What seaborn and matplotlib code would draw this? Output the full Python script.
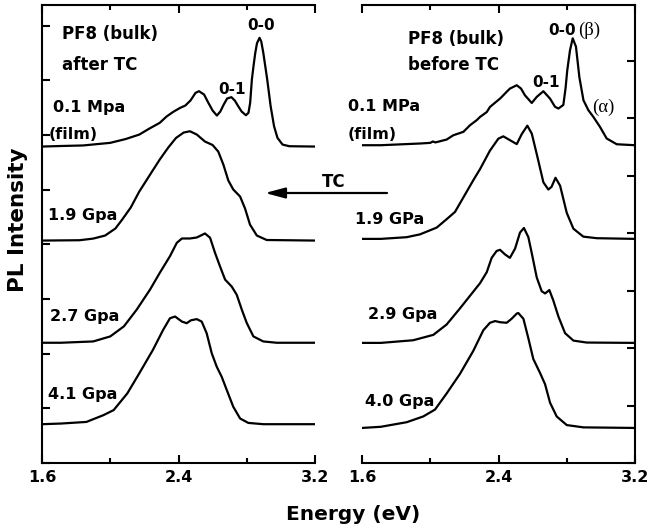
import matplotlib
matplotlib.use('Agg')
import matplotlib.pyplot as plt
from matplotlib.patches import FancyArrowPatch
from matplotlib.ticker import FixedLocator
import numpy as np
import seaborn as sns

sns.set_theme(style='ticks')
plt.rcParams['font.family'] = ['DejaVu Sans']
plt.rcParams['font.weight'] = 'bold'
plt.rcParams['text.color'] = 'black'
plt.rcParams['axes.labelcolor'] = 'black'
plt.rcParams['axes.linewidth'] = 1.5

# ---- after TC (left panel), PL spectra, peak = 1 ----
a1_e = [1.60, 1.71, 1.84, 2.00, 2.09, 2.17, 2.23, 2.29, 2.33, 2.37, 2.41, 2.44, 2.47, 2.50, 2.52,
        2.55, 2.575, 2.60, 2.625, 2.645, 2.665, 2.685, 2.71, 2.73, 2.75, 2.77, 2.795, 2.81, 2.82,
        2.83, 2.84, 2.85, 2.86, 2.875, 2.885, 2.897, 2.92, 2.94, 2.96, 2.98, 3.01, 3.05, 3.20]
a1_i = [0.0, 0.005, 0.01, 0.034, 0.069, 0.11, 0.166, 0.218, 0.276, 0.32, 0.356, 0.377, 0.423, 0.494,
        0.509, 0.478, 0.402, 0.331, 0.285, 0.322, 0.386, 0.442, 0.454, 0.423, 0.371, 0.322, 0.288,
        0.31, 0.402, 0.616, 0.745, 0.862, 0.95, 1.0, 0.966, 0.862, 0.616, 0.371, 0.187, 0.08, 0.018,
        0.003, 0.0]
a2_e = [1.60, 1.82, 1.90, 1.97, 2.03, 2.07, 2.12, 2.17, 2.23, 2.29, 2.34, 2.385, 2.43, 2.467, 2.507,
        2.555, 2.60, 2.633, 2.663, 2.692, 2.721, 2.761, 2.79, 2.819, 2.859, 2.917, 3.20]
a2_i = [0.0, 0.003, 0.018, 0.046, 0.11, 0.192, 0.302, 0.448, 0.595, 0.741, 0.851, 0.938, 0.988, 1.0,
        0.97, 0.906, 0.874, 0.814, 0.695, 0.549, 0.467, 0.403, 0.293, 0.146, 0.046, 0.005, 0.0]
a3_e = [1.60, 1.71, 1.90, 2.00, 2.08, 2.155, 2.233, 2.29, 2.35, 2.39, 2.42, 2.467, 2.507, 2.532,
        2.555, 2.585, 2.614, 2.643, 2.673, 2.712, 2.741, 2.771, 2.80, 2.839, 2.897, 2.976, 3.20]
a3_i = [0.0, 0.0, 0.012, 0.058, 0.15, 0.303, 0.486, 0.639, 0.792, 0.914, 0.954, 0.954, 0.963, 0.982,
        1.0, 0.961, 0.823, 0.70, 0.578, 0.514, 0.44, 0.303, 0.181, 0.058, 0.012, 0.0, 0.0]
a4_e = [1.60, 1.71, 1.86, 1.96, 2.02, 2.10, 2.17, 2.25, 2.31, 2.35, 2.38, 2.42, 2.448, 2.473, 2.507,
        2.536, 2.565, 2.595, 2.624, 2.653, 2.683, 2.721, 2.761, 2.809, 2.897, 3.20]
a4_i = [0.0, 0.006, 0.021, 0.084, 0.131, 0.286, 0.472, 0.69, 0.876, 0.984, 1.0, 0.953, 0.938, 0.965,
        0.976, 0.953, 0.845, 0.658, 0.534, 0.441, 0.317, 0.162, 0.053, 0.012, 0.0, 0.0]

# ---- before TC (right panel) ----
b1_e = [1.60, 1.71, 1.94, 2.00, 2.016, 2.03, 2.096, 2.135, 2.194, 2.233, 2.272, 2.292, 2.331, 2.35,
        2.389, 2.409, 2.448, 2.467, 2.507, 2.532, 2.555, 2.595, 2.624, 2.663, 2.702, 2.731, 2.751,
        2.78, 2.793, 2.803, 2.819, 2.835, 2.854, 2.874, 2.898, 2.927, 2.956, 2.995, 3.034, 3.093, 3.20]
b1_i = [0.0, 0.0, 0.016, 0.022, 0.035, 0.026, 0.053, 0.093, 0.125, 0.187, 0.234, 0.265, 0.31, 0.358,
        0.41, 0.436, 0.50, 0.53, 0.561, 0.53, 0.467, 0.395, 0.452, 0.505, 0.436, 0.36, 0.343, 0.377,
        0.533, 0.701, 0.888, 1.0, 0.922, 0.636, 0.42, 0.327, 0.265, 0.171, 0.063, 0.009, 0.0]
b2_e = [1.60, 1.71, 1.862, 1.94, 2.038, 2.096, 2.145, 2.194, 2.253, 2.292, 2.35, 2.399, 2.428, 2.467,
        2.507, 2.536, 2.569, 2.595, 2.624, 2.663, 2.692, 2.711, 2.734, 2.761, 2.80, 2.839, 2.897,
        2.976, 3.20]
b2_i = [0.0, 0.0, 0.015, 0.04, 0.10, 0.174, 0.238, 0.366, 0.52, 0.617, 0.78, 0.885, 0.906, 0.872,
        0.837, 0.925, 1.0, 0.93, 0.75, 0.50, 0.436, 0.46, 0.54, 0.47, 0.23, 0.09, 0.02, 0.006, 0.0]
b3_e = [1.60, 1.71, 1.90, 2.018, 2.096, 2.174, 2.233, 2.292, 2.331, 2.36, 2.389, 2.409, 2.438, 2.467,
        2.497, 2.526, 2.549, 2.575, 2.595, 2.624, 2.653, 2.673, 2.698, 2.721, 2.751, 2.79, 2.839,
        2.917, 3.20]
b3_i = [0.0, 0.0, 0.023, 0.07, 0.16, 0.30, 0.41, 0.52, 0.615, 0.74, 0.80, 0.81, 0.77, 0.74, 0.82,
        0.96, 1.0, 0.92, 0.78, 0.57, 0.45, 0.43, 0.46, 0.37, 0.23, 0.085, 0.02, 0.003, 0.0]
b4_e = [1.60, 1.71, 1.862, 1.959, 2.028, 2.096, 2.174, 2.252, 2.311, 2.35, 2.38, 2.409, 2.448, 2.477,
        2.507, 2.516, 2.546, 2.575, 2.604, 2.643, 2.673, 2.702, 2.741, 2.80, 2.897, 3.20]
b4_i = [0.0, 0.01, 0.05, 0.10, 0.16, 0.30, 0.47, 0.67, 0.85, 0.915, 0.93, 0.92, 0.915, 0.95, 0.995,
        1.0, 0.95, 0.78, 0.60, 0.48, 0.38, 0.22, 0.10, 0.025, 0.005, 0.0]

# vertical stacking offsets and peak heights (axis units)
after_offsets = [5.79, 4.07, 2.20, 0.71]
after_heights = [1.99, 2.0, 2.0, 1.97]
before_offsets = [5.53, 3.90, 2.09, 0.61]
before_heights = [1.86, 1.97, 2.0, 2.0]

after_labels = ['0.1 Mpa', '1.9 Gpa', '2.7 Gpa', '4.1 Gpa']
before_labels = ['0.1 MPa', '1.9 GPa', '2.9 Gpa', '4.0 Gpa']

x_major = [1.6, 2.4, 3.2]
x_minor = [2.0, 2.8]

fig = plt.figure(figsize=(6.52, 5.27), dpi=100)
ax_a = fig.add_axes([42 / 652, 64 / 527, 273 / 652, 458 / 527])
ax_b = fig.add_axes([362 / 652, 64 / 527, 273 / 652, 458 / 527])


def draw(ax, curves, offsets, heights):
    for (e, i), off, h in zip(curves, offsets, heights):
        y = off + h * np.asarray(i)
        sns.lineplot(x=e, y=y, ax=ax, color='black', lw=1.6, sort=False, estimator=None)


draw(ax_a, [(a1_e, a1_i), (a2_e, a2_i), (a3_e, a3_i), (a4_e, a4_i)], after_offsets, after_heights)
draw(ax_b, [(b1_e, b1_i), (b2_e, b2_i), (b3_e, b3_i), (b4_e, b4_i)], before_offsets, before_heights)

for ax in (ax_a, ax_b):
    ax.set_xlim(1.6, 3.2)
    ax.xaxis.set_major_locator(FixedLocator(x_major))
    ax.xaxis.set_minor_locator(FixedLocator(x_minor))
    ax.set_xticklabels(['1.6', '2.4', '3.2'], fontsize=11.5, fontweight='bold')
    ax.tick_params(axis='x', which='both', direction='in', top=True, bottom=True,
                   width=1.5, colors='black', pad=5)
    ax.tick_params(axis='x', which='major', length=6)
    ax.tick_params(axis='x', which='minor', length=3.8)
    ax.set_xlabel('')
    ax.set_ylabel('')
    for s in ax.spines.values():
        s.set_color('black')
        s.set_linewidth(1.5)
        s.set_visible(True)

# the two panels share an open gap: no inner vertical spines
ax_a.spines['right'].set_visible(False)
ax_b.spines['left'].set_visible(False)

ax_a.set_ylim(0, 8.38)
ax_a.set_yticks(range(0, 9))
ax_a.tick_params(axis='y', direction='in', left=True, right=False, labelleft=False,
                 length=6, width=1.5, colors='black')
ax_b.set_ylim(0, 7.97)
ax_b.set_yticks(range(0, 8))
ax_b.tick_params(axis='y', direction='in', left=False, right=True, labelleft=False,
                 labelright=False, length=6, width=1.5, colors='black')

# panel annotations (axes fraction)
kw = dict(fontweight='bold', color='black', va='baseline', ha='left', clip_on=False)
ax_a.text(0.073, 0.925, 'PF8 (bulk)', fontsize=12, transform=ax_a.transAxes, **kw)
ax_a.text(0.073, 0.858, 'after TC', fontsize=12, transform=ax_a.transAxes, **kw)
ax_a.text(0.645, 0.806, '0-1', fontsize=11, transform=ax_a.transAxes, **kw)
ax_a.text(0.751, 0.945, '0-0', fontsize=11, transform=ax_a.transAxes, **kw)
for lab, (fx, fy) in zip(after_labels, [(0.040, 0.767), (0.022, 0.531), (0.029, 0.309), (0.022, 0.139)]):
    ax_a.text(fx, fy, lab, fontsize=11.5, transform=ax_a.transAxes, **kw)
ax_a.text(0.026, 0.707, '(film)', fontsize=11.5, transform=ax_a.transAxes, **kw)

ax_b.text(0.168, 0.914, 'PF8 (bulk)', fontsize=12, transform=ax_b.transAxes, **kw)
ax_b.text(0.168, 0.858, 'before TC', fontsize=12, transform=ax_b.transAxes, **kw)
ax_b.text(0.681, 0.935, '0-0', fontsize=11, transform=ax_b.transAxes, **kw)
ax_b.text(0.79, 0.935, '(β)', fontsize=13.5, fontweight='normal', family='Liberation Serif',
          transform=ax_b.transAxes, va='baseline', ha='left', color='black')
ax_b.text(0.623, 0.820, '0-1', fontsize=11, transform=ax_b.transAxes, **kw)
ax_b.text(0.842, 0.767, '(α)', fontsize=13.5, fontweight='normal', family='Liberation Serif',
          transform=ax_b.transAxes, va='baseline', ha='left', color='black')
for lab, (fx, fy) in zip(before_labels, [(-0.051, 0.769), (-0.026, 0.521), (0.022, 0.314), (0.011, 0.125)]):
    ax_b.text(fx, fy, lab, fontsize=11.5, transform=ax_b.transAxes, **kw)
ax_b.text(-0.051, 0.707, '(film)', fontsize=11.5, transform=ax_b.transAxes, **kw)

# TC arrow between panels
fig.text(0.494, 0.646, 'TC', fontsize=12, fontweight='bold', va='baseline', ha='left')
fig.patches.append(FancyArrowPatch(
    (387 / 652, 334 / 527), (265 / 652, 334 / 527), transform=fig.transFigure,
    arrowstyle='-|>,head_length=1.2,head_width=0.32', mutation_scale=10,
    shrinkA=0, shrinkB=0, lw=1.6, color='black'))

fig.text(0.542, 0.0133, 'Energy (eV)', fontsize=14.5, fontweight='bold', ha='center', va='baseline')
fig.text(0.028, 0.5825, 'PL Intensity', fontsize=15.5, fontweight='bold', rotation=90,
         ha='center', va='center')

fig.savefig('out.png', dpi=100)
